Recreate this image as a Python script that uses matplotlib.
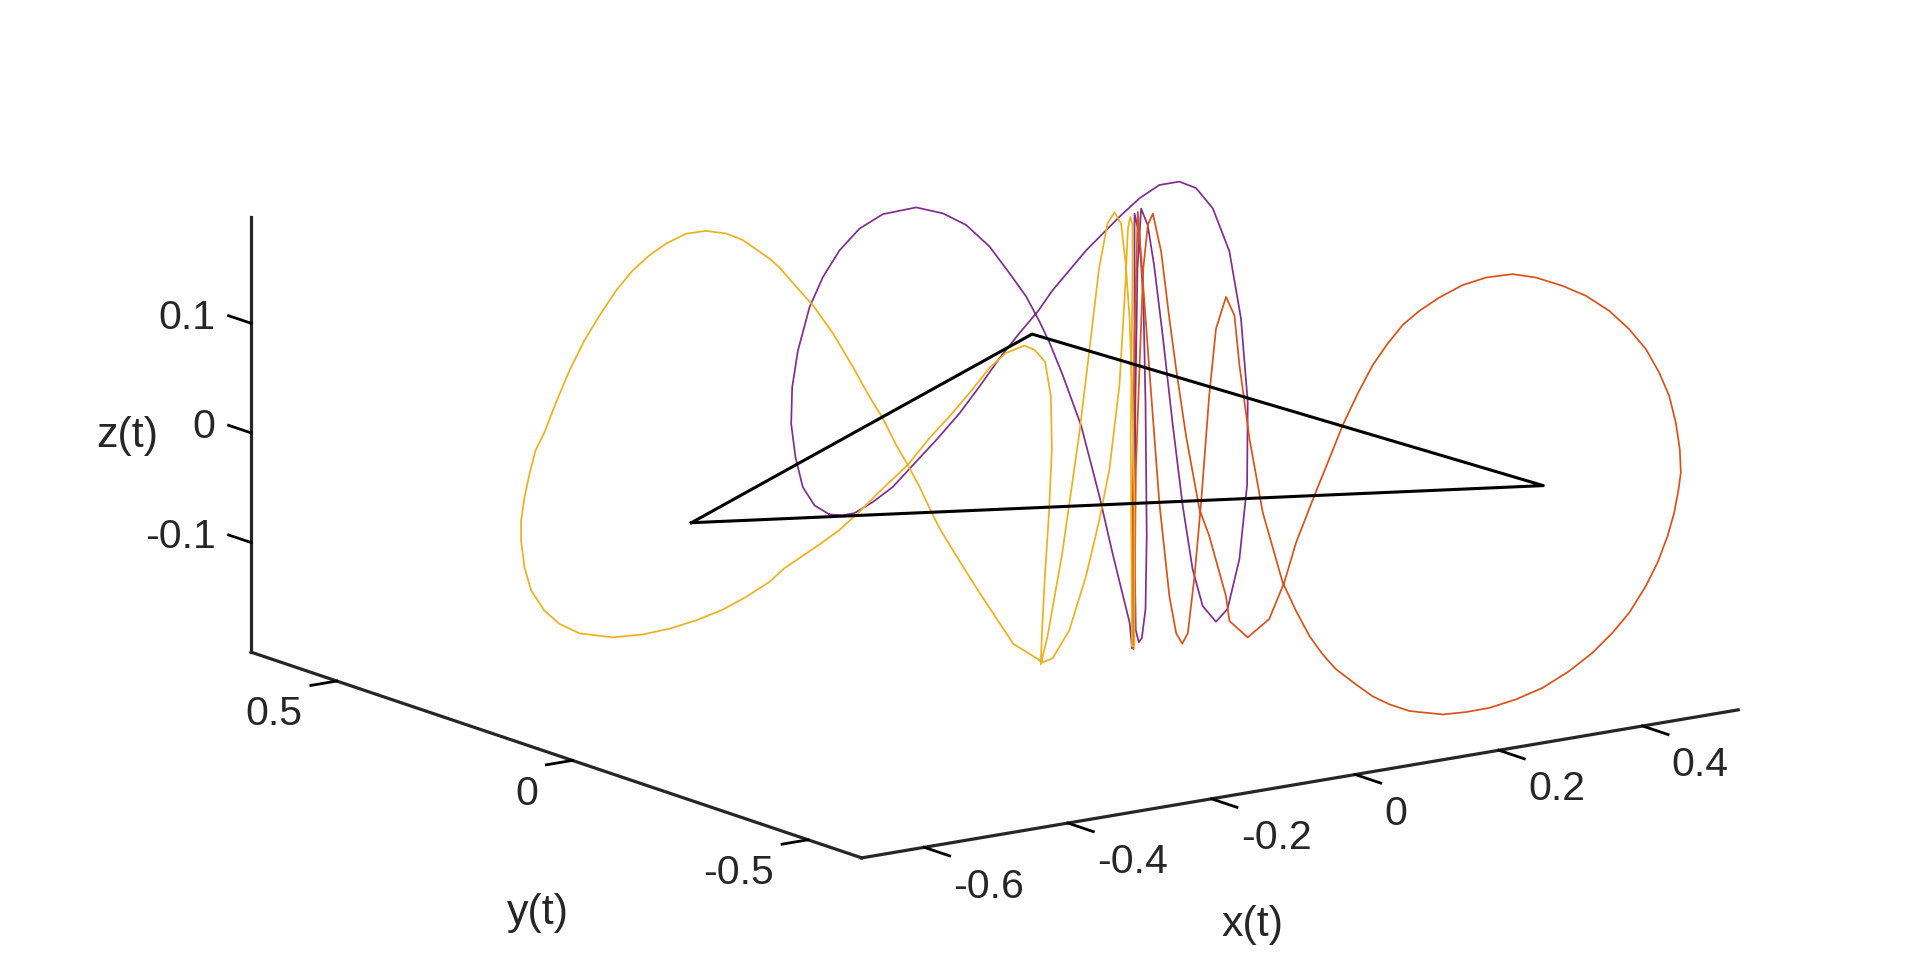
import numpy as np
import matplotlib
matplotlib.use('Agg')
import matplotlib.pyplot as plt

plt.rcParams['font.family'] = ['Liberation Sans', 'DejaVu Sans']

# values; depth (y) can't be read from one view, so it is estimated
x_yellow = [.0419, .0152, -.0216, -.0407, -.0604, -.0700, -.0822, -.0943, -.1064, -.1202, -.1341, -.1513, -.1720,
            -.1929, -.2102, -.2274, -.2379, -.2656, -.2828, -.3037, -.3243, -.3451, -.3624, -.3797, -.3969, -.4142,
            -.4299, -.4454, -.4592, -.4714, -.4807, -.4869, -.4921, -.4956, -.4956, -.4921, -.4851, -.4714, -.4558,
            -.4349, -.4004, -.3693, -.3416, -.3139, -.2863, -.2620, -.2379, -.2224, -.1849, -.1652, -.1445, -.1236,
            -.0943, -.0718, -.0511, -.0302, -.0095, .0076, .0267, .0371, .0483, .0543, .0553, .0521, .0483, .0451,
            .0438, .0508, .0661, .0839, .0940, .1042, .1131, .1202, .1271, .1321, .1360, .1391, .1410, .1410, .1410,
            .1385, .1372, .1391, .1391, .1367, .1343, .1316, .1254, .1150, .1046, .0907, .0734, .0559, .0445]
y_yellow = [.1212, .1351, .1542, .1642, .1744, .1794, .1857, .1920, .1983, .2055, .2127, .2217, .2324, .2433, .2523,
            .2612, .2667, .2811, .2901, .3009, .3116, .3224, .3314, .3404, .3494, .3584, .3665, .3746, .3818, .3881,
            .3930, .3962, .3989, .4007, .4007, .3989, .3953, .3881, .3800, .3691, .3512, .3350, .3206, .3062, .2919,
            .2792, .2667, .2586, .2391, .2289, .2181, .2073, .1920, .1803, .1696, .1587, .1479, .1390, .1291, .1237,
            .1179, .1148, .1142, .1159, .1179, .1195, .1202, .1166, .1086, .0994, .0941, .0888, .0842, .0805, .0769,
            .0743, .0723, .0707, .0697, .0697, .0697, .0710, .0717, .0707, .0707, .0719, .0732, .0746, .0778, .0832,
            .0886, .0958, .1048, .1139, .1199]
z_yellow = [-.2064, -.1909, -.1406, -.1131, -.0842, -.0673, -.0440, -.0239, -.0051, .0196, .0398, .0677, .0990, .1255,
            .1429, .1609, .1695, .1873, .1939, .1970, .1952, .1869, .1768, .1637, .1460, .1237, .1015, .0746, .0463,
            .0192, .0028, -.0183, -.0393, -.0606, -.0788, -.1032, -.1247, -.1434, -.1561, -.1655, -.1703, -.1688,
            -.1645, -.1579, -.1491, -.1383, -.1255, -.1136, -.0926, -.0807, -.0648, -.0472, -.0239, -.0002, .0188,
            .0394, .0616, .0746, .0807, .0766, .0650, .0335, -.0152, -.0760, -.1272, -.1797, -.2108, -.1854, -.1099,
            -.0010, .0724, .1480, .1891, .1989, .1886, .1504, .1011, .0250, -.0666, -.1638, -.1973, -.1973, -.0055,
            .1468, .1870, .1943, .1839, .1320, .0406, -.0356, -.0810, -.1320, -.1806, -.2057, -.2092]

x_purple = [-.2635, -.2843, -.3007, -.3109, -.3169, -.3155, -.3075, -.2913, -.2727, -.2496, -.2218, -.1893, -.1429,
            -.1058, -.0734, -.0409, -.0131, .0101, .0286, .0426, .0612, .0867, .1121, .1303, .1542, .1576, .1610,
            .1610, .1678, .1734, .1763, .1780, .1763, .1712, .1670, .1627, .1610, .1622, .1651, .1702, .1794, .1882,
            .2002, .2138, .2281, .2419, .2559, .2744, .2905, .3070, .3177, .3186, .3092, .2930, .2700, .2467, .2235,
            .1956, .1678, .1400, .0935, .0468, .0264, .0009, -.0269, -.0549, -.0826, -.1150, -.1475, -.1755, -.2032,
            -.2288, -.2450]
y_purple = [.1] * len(x_purple)
z_purple = [-.0370, -.0265, -.0080, .0204, .0515, .0848, .1173, .1552, .1806, .2023, .2191, .2287, .2297, .2202, .2060,
            .1828, .1554, .1316, .1068, .0860, .0539, .0053, -.0618, -.1156, -.1820, -.2058, -.0050, .1905, .1701,
            .1087, .0168, -.1053, -.1721, -.1979, -.2012, -.1896, -.1034, .0183, .1398, .1940, .1780, .1406, .0751,
            -.0057, -.0835, -.1430, -.1780, -.1944, -.1845, -.1409, -.0745, .0013, .0783, .1416, .1831, .2042, .2127,
            .2127, .2036, .1898, .1642, .1330, .1161, .0992, .0793, .0565, .0352, .0144, -.0049, -.0217, -.0323,
            -.0396, -.0399]

x_orange = [.1372, .1369, .1379, .1397, .1420, .1461, .1517, .1573, .1611, .1645, .1676, .1713, .1750, .1795, .1833,
            .1889, .1936, .1964, .2020, .2094, .2205, .2280, .2355, .2428, .2502, .2614, .2706, .2800, .2911, .2967,
            .3098, .3227, .3358, .3506, .3655, .3803, .3933, .4045, .4138, .4231, .4296, .4352, .4389, .4413, .4426,
            .4420, .4398, .4361, .4305, .4231, .4138, .4027, .3896, .3766, .3618, .3487, .3339, .3208, .3078, .2967,
            .2874, .2790, .2706, .2623, .2539, .2465, .2389, .2280, .2214, .2130, .2010, .1908, .1889, .1795, .1741,
            .1666, .1611, .1573, .1527, .1481, .1453, .1427, .1406, .1386, .1379]
y_orange = [.0662, .0669, .0646, .0605, .0552, .0459, .0331, .0203, .0117, .0039, -.0031, -.0116, -.0200, -.0303,
            -.0389, -.0517, -.0624, -.0688, -.0816, -.0984, -.1237, -.1408, -.1579, -.1746, -.1915, -.2170, -.2380,
            -.2594, -.2847, -.2975, -.3273, -.3568, -.3866, -.4204, -.4543, -.4881, -.5177, -.5433, -.5645, -.5857,
            -.6005, -.6133, -.6217, -.6272, -.6301, -.6288, -.6237, -.6153, -.6025, -.5857, -.5645, -.5392, -.5093,
            -.4796, -.4459, -.4160, -.3823, -.3524, -.3228, -.2975, -.2763, -.2571, -.2380, -.2190, -.1999, -.1830,
            -.1657, -.1408, -.1258, -.1066, -.0793, -.0560, -.0517, -.0303, -.0179, -.0008, .0117, .0203, .0308, .0413,
            .0477, .0536, .0584, .0630, .0646]
z_orange = [-.1988, -.0658, .0869, .2001, .1487, .0580, -.0626, -.1467, -.1796, -.1883, -.1781, -.1254, -.0574, .0412,
            .1030, .1333, .1175, .0724, .0066, -.0589, -.1201, -.1446, -.1659, -.1809, -.1928, -.2042, -.2130, -.2183,
            -.2219, -.2217, -.2210, -.2160, -.2093, -.1983, -.1845, -.1660, -.1464, -.1256, -.1054, -.0789, -.0562,
            -.0307, -.0086, .0132, .0288, .0499, .0737, .0973, .1174, .1371, .1532, .1675, .1784, .1846, .1889, .1892,
            .1828, .1730, .1588, .1442, .1293, .1104, .0887, .0610, .0303, -.0018, -.0340, -.0821, -.1199, -.1552,
            -.1746, -.1618, -.1398, -.0866, -.0638, .0017, .0612, .1063, .1667, .2003, .1896, .1488, .0568, -.0353,
            -.1572]

x_triangle = [-.526, .309, .366, -.526]
y_triangle = [-.007, .543, -.455, -.007]
z_triangle = [0, 0, 0, 0]

x_ticks = [-.6, -.4, -.2, 0, .2, .4]
x_labels = ['-0.6', '-0.4', '-0.2', '0', '0.2', '0.4']
y_ticks = [-.5, 0, .5]
y_labels = ['-0.5', '0', '0.5']
z_ticks = [-.1, 0, .1]
z_labels = ['-0.1', '0', '0.1']

TEXT = '#262626'


def closed(a):
    return np.append(a, a[0])


def main():
    fig = plt.figure(figsize=(19.2, 9.63), dpi=100)
    side = 1526
    ax = fig.add_axes([211 / 1920, -284 / 963, side / 1920, side / 963], projection='3d', proj_type='ortho')
    ax.computed_zorder = False
    ax.patch.set_visible(False)
    ax.view_init(elev=13.8, azim=-125.3)
    ax.set_box_aspect((877, 863, 366))

    ax.plot(closed(x_purple), closed(y_purple), closed(z_purple), color='#7E2F8E', lw=1.25, zorder=2)
    ax.plot(closed(x_orange), closed(y_orange), closed(z_orange), color='#D95319', lw=1.25, zorder=3)
    ax.plot(closed(x_yellow), closed(y_yellow), closed(z_yellow), color='#EDB120', lw=1.25, zorder=4)
    ax.plot(x_triangle, y_triangle, z_triangle, color='black', lw=2.2, zorder=5)

    ax.set_xlim(-.687, .533)
    ax.set_ylim(-.614, .682)
    ax.set_zlim(-.2, .197)
    ax.set_xticks(x_ticks, [''] * len(x_ticks))
    ax.set_yticks(y_ticks, [''] * len(y_ticks))
    ax.set_zticks(z_ticks, [''] * len(z_ticks))
    ax.grid(False)

    # z ticks lie along y here, as in the original
    ax.zaxis._get_tickdir = lambda pos: 1

    for axis, inward, outward in ((ax.xaxis, .52, 0), (ax.yaxis, .37, 0), (ax.zaxis, 0, .46)):
        axis.set_pane_color((1, 1, 1, 0))
        axis.line.set_color(TEXT)
        axis.line.set_linewidth(2.3)
        axis._axinfo['tick']['inward_factor'] = inward
        axis._axinfo['tick']['outward_factor'] = outward
        axis._axinfo['tick']['linewidth'] = {True: 2, False: 1}
        axis._axinfo['tick']['color'] = TEXT
        axis._axinfo['axisline']['linewidth'] = 2.3
        axis._axinfo['axisline']['color'] = TEXT

    # tick labels sit as in the original: left of x, right of y and z
    for t, s in zip(x_ticks, x_labels):
        ax.text(t, -.676, -.2268, s, fontsize=29.5, color=TEXT, ha='left', va='center')
    for t, s in zip(y_ticks, y_labels):
        ax.text(-.735, t, -.225, s, fontsize=29.5, color=TEXT, ha='right', va='center')
    for t, s in zip(z_ticks, z_labels):
        ax.text(-.687, .757, t - .0058, s, fontsize=29.5, color=TEXT, ha='right', va='center')

    ax.text(-.234, -.752, -.2916, 'x(t)', fontsize=31, color=TEXT, ha='center', va='center')
    ax.text(-.735, 0, -.334, 'y(t)', fontsize=31, color=TEXT, ha='center', va='center')
    ax.text(-.687, .944, -.041, 'z(t)', fontsize=31, color=TEXT, ha='center', va='center', rotation=90)

    fig.savefig('out.png', dpi=100)


if __name__ == '__main__':
    main()
